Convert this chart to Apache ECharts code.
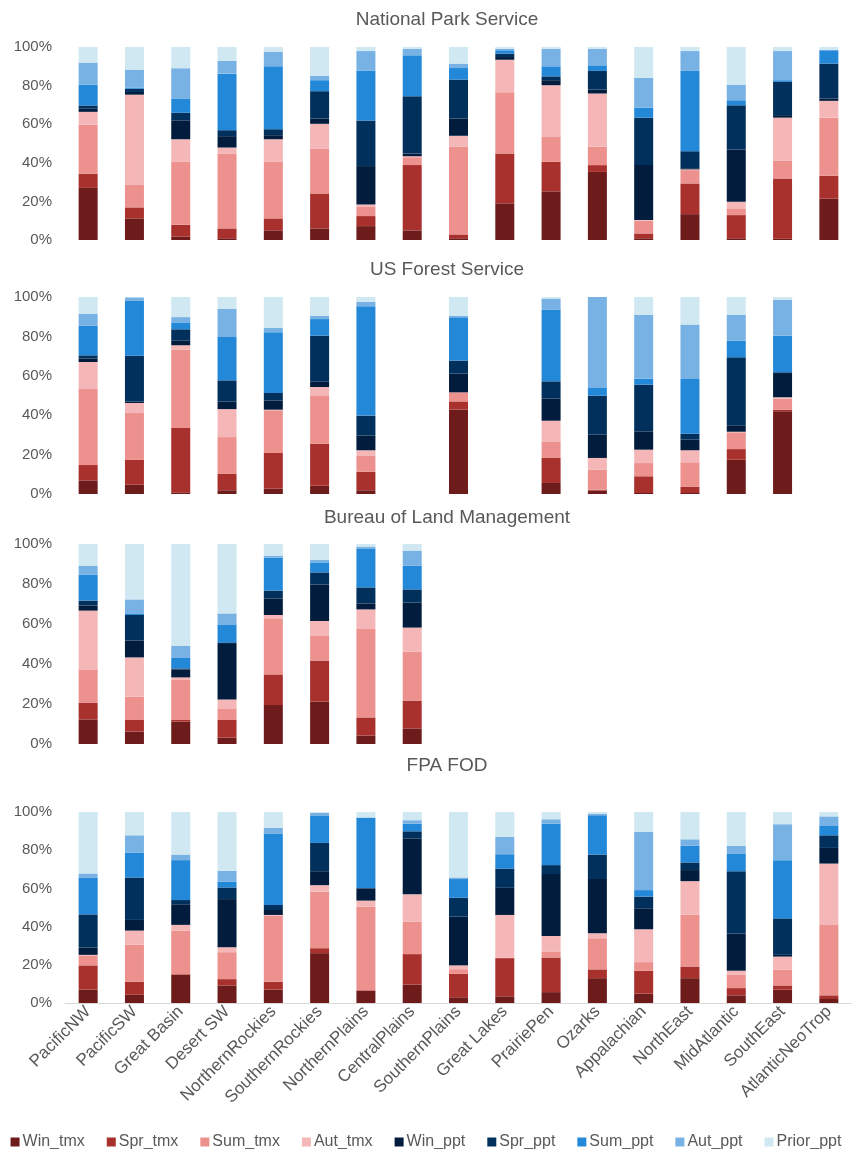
<!DOCTYPE html>
<html>
<head>
<meta charset="utf-8">
<script src="https://cdn.jsdelivr.net/npm/echarts@6/dist/echarts.min.js"></script>
<style>
  html, body { margin: 0; padding: 0; background: #ffffff; }
  #chart { width: 852px; height: 1149px; }
</style>
</head>
<body>
<div id="chart"></div>
<script>
const categories = ['PacificNW', 'PacificSW', 'Great Basin', 'Desert SW', 'NorthernRockies', 'SouthernRockies',
  'NorthernPlains', 'CentralPlains', 'SouthernPlains', 'Great Lakes', 'PrairiePen', 'Ozarks',
  'Appalachian', 'NorthEast', 'MidAtlantic', 'SouthEast', 'AtlanticNeoTrop'];
const seriesNames = ['Win_tmx', 'Spr_tmx', 'Sum_tmx', 'Aut_tmx', 'Win_ppt', 'Spr_ppt', 'Sum_ppt', 'Aut_ppt', 'Prior_ppt'];
const panelTitles = ['National Park Service', 'US Forest Service', 'Bureau of Land Management', 'FPA FOD'];
const yTicks = [0, 20, 40, 60, 80, 100];

// National Park Service (percent of each bar)
const npsWinTmx = [27, 11.2, 1.7, 0.9, 5, 6, 7.2, 5, 0.9, 19, 25.2, 35.3, 0.9, 13.4, 0.9, 0.7, 21.4];
const npsSprTmx = [7.3, 5.7, 6.2, 5.1, 6.2, 18.1, 5.2, 33.8, 2, 25.8, 15.3, 3.5, 2.5, 15.9, 12, 31.2, 11.9];
const npsSumTmx = [25.4, 11.9, 32.6, 38.8, 29.3, 23.1, 4.7, 4.1, 45.4, 31.8, 12.9, 9.6, 6.6, 6.9, 3.5, 9.1, 30.1];
const npsAutTmx = [6.7, 46.5, 11.7, 3.1, 11.7, 13, 1.3, 0.5, 5.7, 16.8, 26.8, 27.5, 0.3, 0.4, 3.4, 22.4, 8.7];
const npsWinPpt = [1.6, 1.4, 9.8, 5.9, 2.1, 2.7, 19.9, 1.4, 8.9, 1.4, 2.6, 2, 28.5, 0.6, 27.1, 1.3, 1.2];
const npsSprPpt = [1.7, 1.7, 3.9, 3.1, 3.1, 14.2, 23.6, 29.7, 20.2, 1.8, 2, 9.7, 24.6, 8.8, 22.9, 17.2, 18.1];
const npsSumPpt = [10.8, 0.6, 7.2, 29.3, 32.6, 5.7, 25.9, 21.2, 6, 1.7, 5.2, 2.9, 5.2, 41.6, 2.6, 0.9, 6.9];
const npsAutPpt = [11.4, 9.3, 15.9, 6.6, 7.6, 2.2, 10.1, 3.4, 2.3, 0.8, 9.1, 8.6, 15.4, 10.3, 8.1, 15.1, 0.3];
const npsPriorPpt = [8.1, 11.7, 11, 7.2, 2.4, 15, 2.1, 0.9, 8.6, 0.9, 0.9, 0.9, 16, 2.1, 19.5, 2.1, 1.4];

// US Forest Service
const usfsWinTmx = [6.9, 4.7, 0.8, 1.9, 2.7, 4.2, 1.9, null, 42.8, null, 5.6, 1.7, 0.5, 0.5, 17.4, 42, null];
const usfsSprTmx = [7.8, 12.6, 32.7, 8.3, 18.1, 21.3, 9.4, null, 4.2, null, 12.7, 0.5, 8.5, 3.1, 5.4, 0.8, null];
const usfsSumTmx = [38.6, 23.8, 39.8, 18.7, 21.7, 24.6, 8.3, null, 4.6, null, 8.4, 10.2, 6.7, 12.5, 8.5, 5.6, null];
const usfsAutTmx = [13.7, 5.1, 2.2, 14.2, 0.3, 4.2, 2.6, null, 0, null, 10.5, 5.9, 6.8, 6.1, 0.3, 0.7, null];
const usfsWinPpt = [1.7, 0.7, 2.5, 3.9, 4.7, 2.9, 7.4, null, 9.5, null, 11.2, 11.8, 9.3, 5.4, 3.1, 12.3, null];
const usfsSprPpt = [1.7, 23.3, 5.6, 10.7, 3.8, 23.2, 10.2, null, 6.6, null, 8.8, 19.8, 23.7, 3, 34.7, 0.4, null];
const usfsSumPpt = [15, 27.8, 3.5, 22, 30.8, 8.4, 55.5, null, 22, null, 36.4, 3.9, 3, 27.8, 8.4, 18.6, null];
const usfsAutPpt = [6.1, 1.8, 2.7, 14.4, 2.2, 1.7, 2.2, null, 0.8, null, 5.6, 46.2, 32.5, 27.6, 13.2, 18.2, null];
const usfsPriorPpt = [8.5, 0.2, 10.2, 5.9, 15.7, 9.5, 2.5, null, 9.5, null, 0.8, 0, 9, 14, 9, 1.4, null];

// Bureau of Land Management
const blmWinTmx = [12.3, 6.2, 11.2, 3.2, 19.5, 21.2, 4.2, 7.8];
const blmSprTmx = [8.4, 5.8, 0.8, 8.8, 15.3, 20.5, 9.1, 13.9];
const blmSumTmx = [16.6, 11.7, 20, 5.8, 27.7, 12.3, 44.2, 24.5];
const blmAutTmx = [29.4, 19.6, 1.3, 4.5, 2, 7.5, 9.8, 12];
const blmWinPpt = [2.5, 8.4, 4, 27.7, 8.3, 18.3, 3, 12.5];
const blmSprPpt = [2.5, 12.8, 0.5, 0.8, 3.9, 6, 8, 6.6];
const blmSumPpt = [13, 0.8, 5.5, 9, 16.5, 5, 19.5, 11.9];
const blmAutPpt = [4.5, 7, 5.7, 5.5, 1, 1.2, 0.9, 7.5];
const blmPriorPpt = [10.8, 27.7, 51, 34.7, 5.8, 8, 1.3, 3.3];

// FPA FOD
const fpaWinTmx = [7, 4.3, 14.8, 9.2, 7, 26.1, 6.4, 9.6, 3, 3.5, 5.7, 13, 4.9, 13, 4, 7, 2.1];
const fpaSprTmx = [12.7, 6.8, 0.3, 3.3, 4.1, 2.6, 0.3, 16, 12.3, 20, 18.1, 4.6, 12, 6.1, 3.8, 2.2, 1.9];
const fpaSumTmx = [5.2, 19.5, 22.8, 14.1, 34.6, 29.6, 43.7, 17, 2.4, 0.3, 3.2, 16.3, 4.5, 27.3, 7, 8.2, 36.9];
const fpaAutTmx = [0.3, 7.3, 3, 2.6, 0.4, 3.4, 3.2, 14.3, 2, 22.3, 8.1, 2.6, 17.2, 17.4, 2.1, 6.9, 32.1];
const fpaWinPpt = [3.8, 5.6, 10.8, 25.2, 2.6, 7.3, 6.4, 29.2, 25.5, 14.2, 32.4, 28.4, 11, 5.8, 19.3, 0.9, 8.2];
const fpaSprPpt = [17.4, 22.2, 2.2, 6.1, 2.6, 14.8, 0.2, 3.8, 9.9, 10.1, 4.7, 12.8, 6.1, 4, 32.8, 19.1, 6.6];
const fpaSumPpt = [19.3, 13.1, 20.9, 3, 37.4, 14.1, 36.7, 4, 9.8, 7.5, 21.7, 20.6, 3.4, 8.7, 9.3, 30.5, 5.2];
const fpaAutPpt = [2.1, 9, 2.9, 5.7, 3.1, 1.6, 0.3, 1.8, 0.8, 9.1, 2.3, 0.8, 30.5, 3.4, 4, 18.8, 4.7];
const fpaPriorPpt = [32.2, 12.2, 22.3, 30.8, 8.2, 0.5, 2.8, 4.3, 34.3, 13, 3.8, 0.9, 10.4, 14.3, 17.7, 6.4, 2.3];

const panelData = [
  [npsWinTmx, npsSprTmx, npsSumTmx, npsAutTmx, npsWinPpt, npsSprPpt, npsSumPpt, npsAutPpt, npsPriorPpt],
  [usfsWinTmx, usfsSprTmx, usfsSumTmx, usfsAutTmx, usfsWinPpt, usfsSprPpt, usfsSumPpt, usfsAutPpt, usfsPriorPpt],
  [blmWinTmx, blmSprTmx, blmSumTmx, blmAutTmx, blmWinPpt, blmSprPpt, blmSumPpt, blmAutPpt, blmPriorPpt],
  [fpaWinTmx, fpaSprTmx, fpaSumTmx, fpaAutTmx, fpaWinPpt, fpaSprPpt, fpaSumPpt, fpaAutPpt, fpaPriorPpt]
];

const colors = ['#6e1b1c', '#a8302d', '#ec918e', '#f4b6b6', '#011c3c', '#02305c', '#2488d8', '#78b1e4', '#cfe8f1'];
const FONT = 'Liberation Sans, Arial, sans-serif';
const TXT = '#595959';

// layout (pixels)
const gridLeft = 65, gridWidth = 795;
const gridBoxes = [
  { top: 47, height: 193 },
  { top: 297, height: 197 },
  { top: 544, height: 200 },
  { top: 812, height: 191 }
];
const titleY = [20, 270, 518, 766];

const grids = gridBoxes.map(b => ({ left: gridLeft, width: gridWidth, top: b.top, height: b.height }));
const xAxes = gridBoxes.map((b, i) => ({
  type: 'category', gridIndex: i, data: categories,
  axisTick: { show: false },
  axisLine: { show: i === 3, lineStyle: { color: '#d9d9d9', width: 1 } },
  axisLabel: i === 3 ? { show: true, rotate: 45, interval: 0, fontSize: 17, color: TXT, fontFamily: FONT, margin: 6 } : { show: false }
}));
const yAxes = gridBoxes.map((b, i) => ({
  type: 'value', gridIndex: i, min: yTicks[0], max: yTicks[yTicks.length - 1], interval: 20,
  splitLine: { show: false }, axisLine: { show: false }, axisTick: { show: false },
  axisLabel: { formatter: '{value}%', fontSize: 15, color: TXT, fontFamily: FONT, margin: 13 }
}));

const series = [];
panelData.forEach((arrs, p) => {
  arrs.forEach((vals, s) => {
    series.push({
      name: seriesNames[s], type: 'bar', stack: 'panel' + p,
      xAxisIndex: p, yAxisIndex: p, barWidth: 19,
      itemStyle: { color: colors[s] },
      emphasis: { disabled: true },
      data: vals
    });
  });
});

const chart = echarts.init(document.getElementById('chart'), null, { renderer: 'canvas' });
chart.setOption({
  animation: false,
  color: colors,
  textStyle: { fontFamily: FONT },
  grid: grids,
  xAxis: xAxes,
  yAxis: yAxes,
  legend: {
    data: seriesNames, top: 1129, left: 'center',
    itemWidth: 9, itemHeight: 9, itemGap: 22, icon: 'rect',
    textStyle: { fontSize: 16, color: TXT, fontFamily: FONT, padding: [0, 0, 0, -2] }
  },
  graphic: panelTitles.map((t, i) => ({
    type: 'text', x: 447, y: titleY[i],
    style: { text: t, fill: TXT, font: '19px ' + FONT, textAlign: 'center', textVerticalAlign: 'middle' }
  })),
  series: series
});
</script>
</body>
</html>
